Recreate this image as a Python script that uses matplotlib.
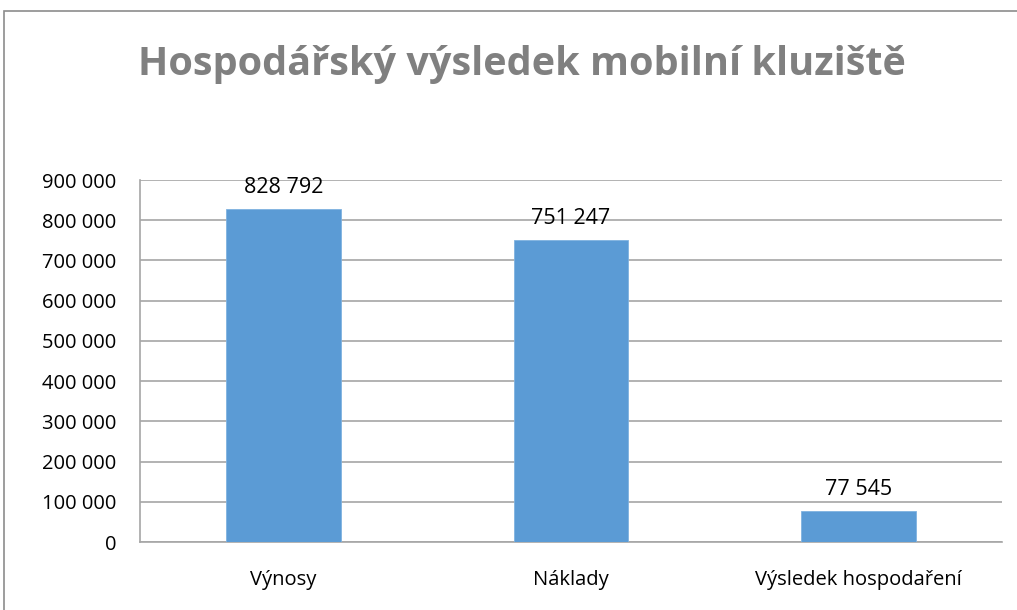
import matplotlib
matplotlib.use('Agg')
import matplotlib.pyplot as plt
from matplotlib.ticker import FuncFormatter
from matplotlib.patches import Rectangle

plt.rcParams['font.family'] = ['Open Sans', 'DejaVu Sans']

categories = ['Výnosy', 'Náklady', 'Výsledek hospodaření']
values = [828792, 751247, 77545]
yticks = list(range(0, 900001, 100000))
title = 'Hospodářský výsledek mobilní kluziště'

def fmt(v, pos=None):
    return '{:,}'.format(int(v)).replace(',', ' ')

fig = plt.figure(figsize=(10.17, 6.1), dpi=100)
# chart border
fig.patches.append(Rectangle((4/1017, -0.01), 1.0, (610-11)/610 + 0.01, transform=fig.transFigure,
                             fill=False, edgecolor='#8c8c8c', linewidth=1.2))

ax = fig.add_axes([140/1017, (610-542)/610, (1002-140)/1017, (542-180)/610])
x = range(len(categories))
ax.bar(x, values, width=0.4, color='#5B9BD5', edgecolor='#7fb2e0', linewidth=0.6, zorder=3)
for i, v in zip(x, values):
    ax.annotate(fmt(v), (i, v), xytext=(0, 8), textcoords='offset points',
                ha='center', va='bottom', fontsize=15.5, color='#000000')

ax.set_xlim(-0.5, 2.5)
ax.set_ylim(0, 900000)
ax.set_yticks(yticks)
ax.yaxis.set_major_formatter(FuncFormatter(fmt))
ax.set_xticks(list(x))
ax.set_xticklabels(categories)
ax.tick_params(axis='both', length=0, labelsize=14.5, colors='#000000')
ax.tick_params(axis='y', pad=17)
ax.tick_params(axis='x', pad=20)
ax.grid(axis='y', color='#a6a6a6', linewidth=1.2, zorder=0)
for s in ['top', 'right']:
    ax.spines[s].set_visible(False)
for s in ['left', 'bottom']:
    ax.spines[s].set_color('#a6a6a6')
    ax.spines[s].set_linewidth(1.2)

fig.text(0.513, 1 - 64/610, title, ha='center', va='center', fontsize=28.5,
         fontweight='bold', color='#808080')

fig.savefig('out.png', dpi=100)
